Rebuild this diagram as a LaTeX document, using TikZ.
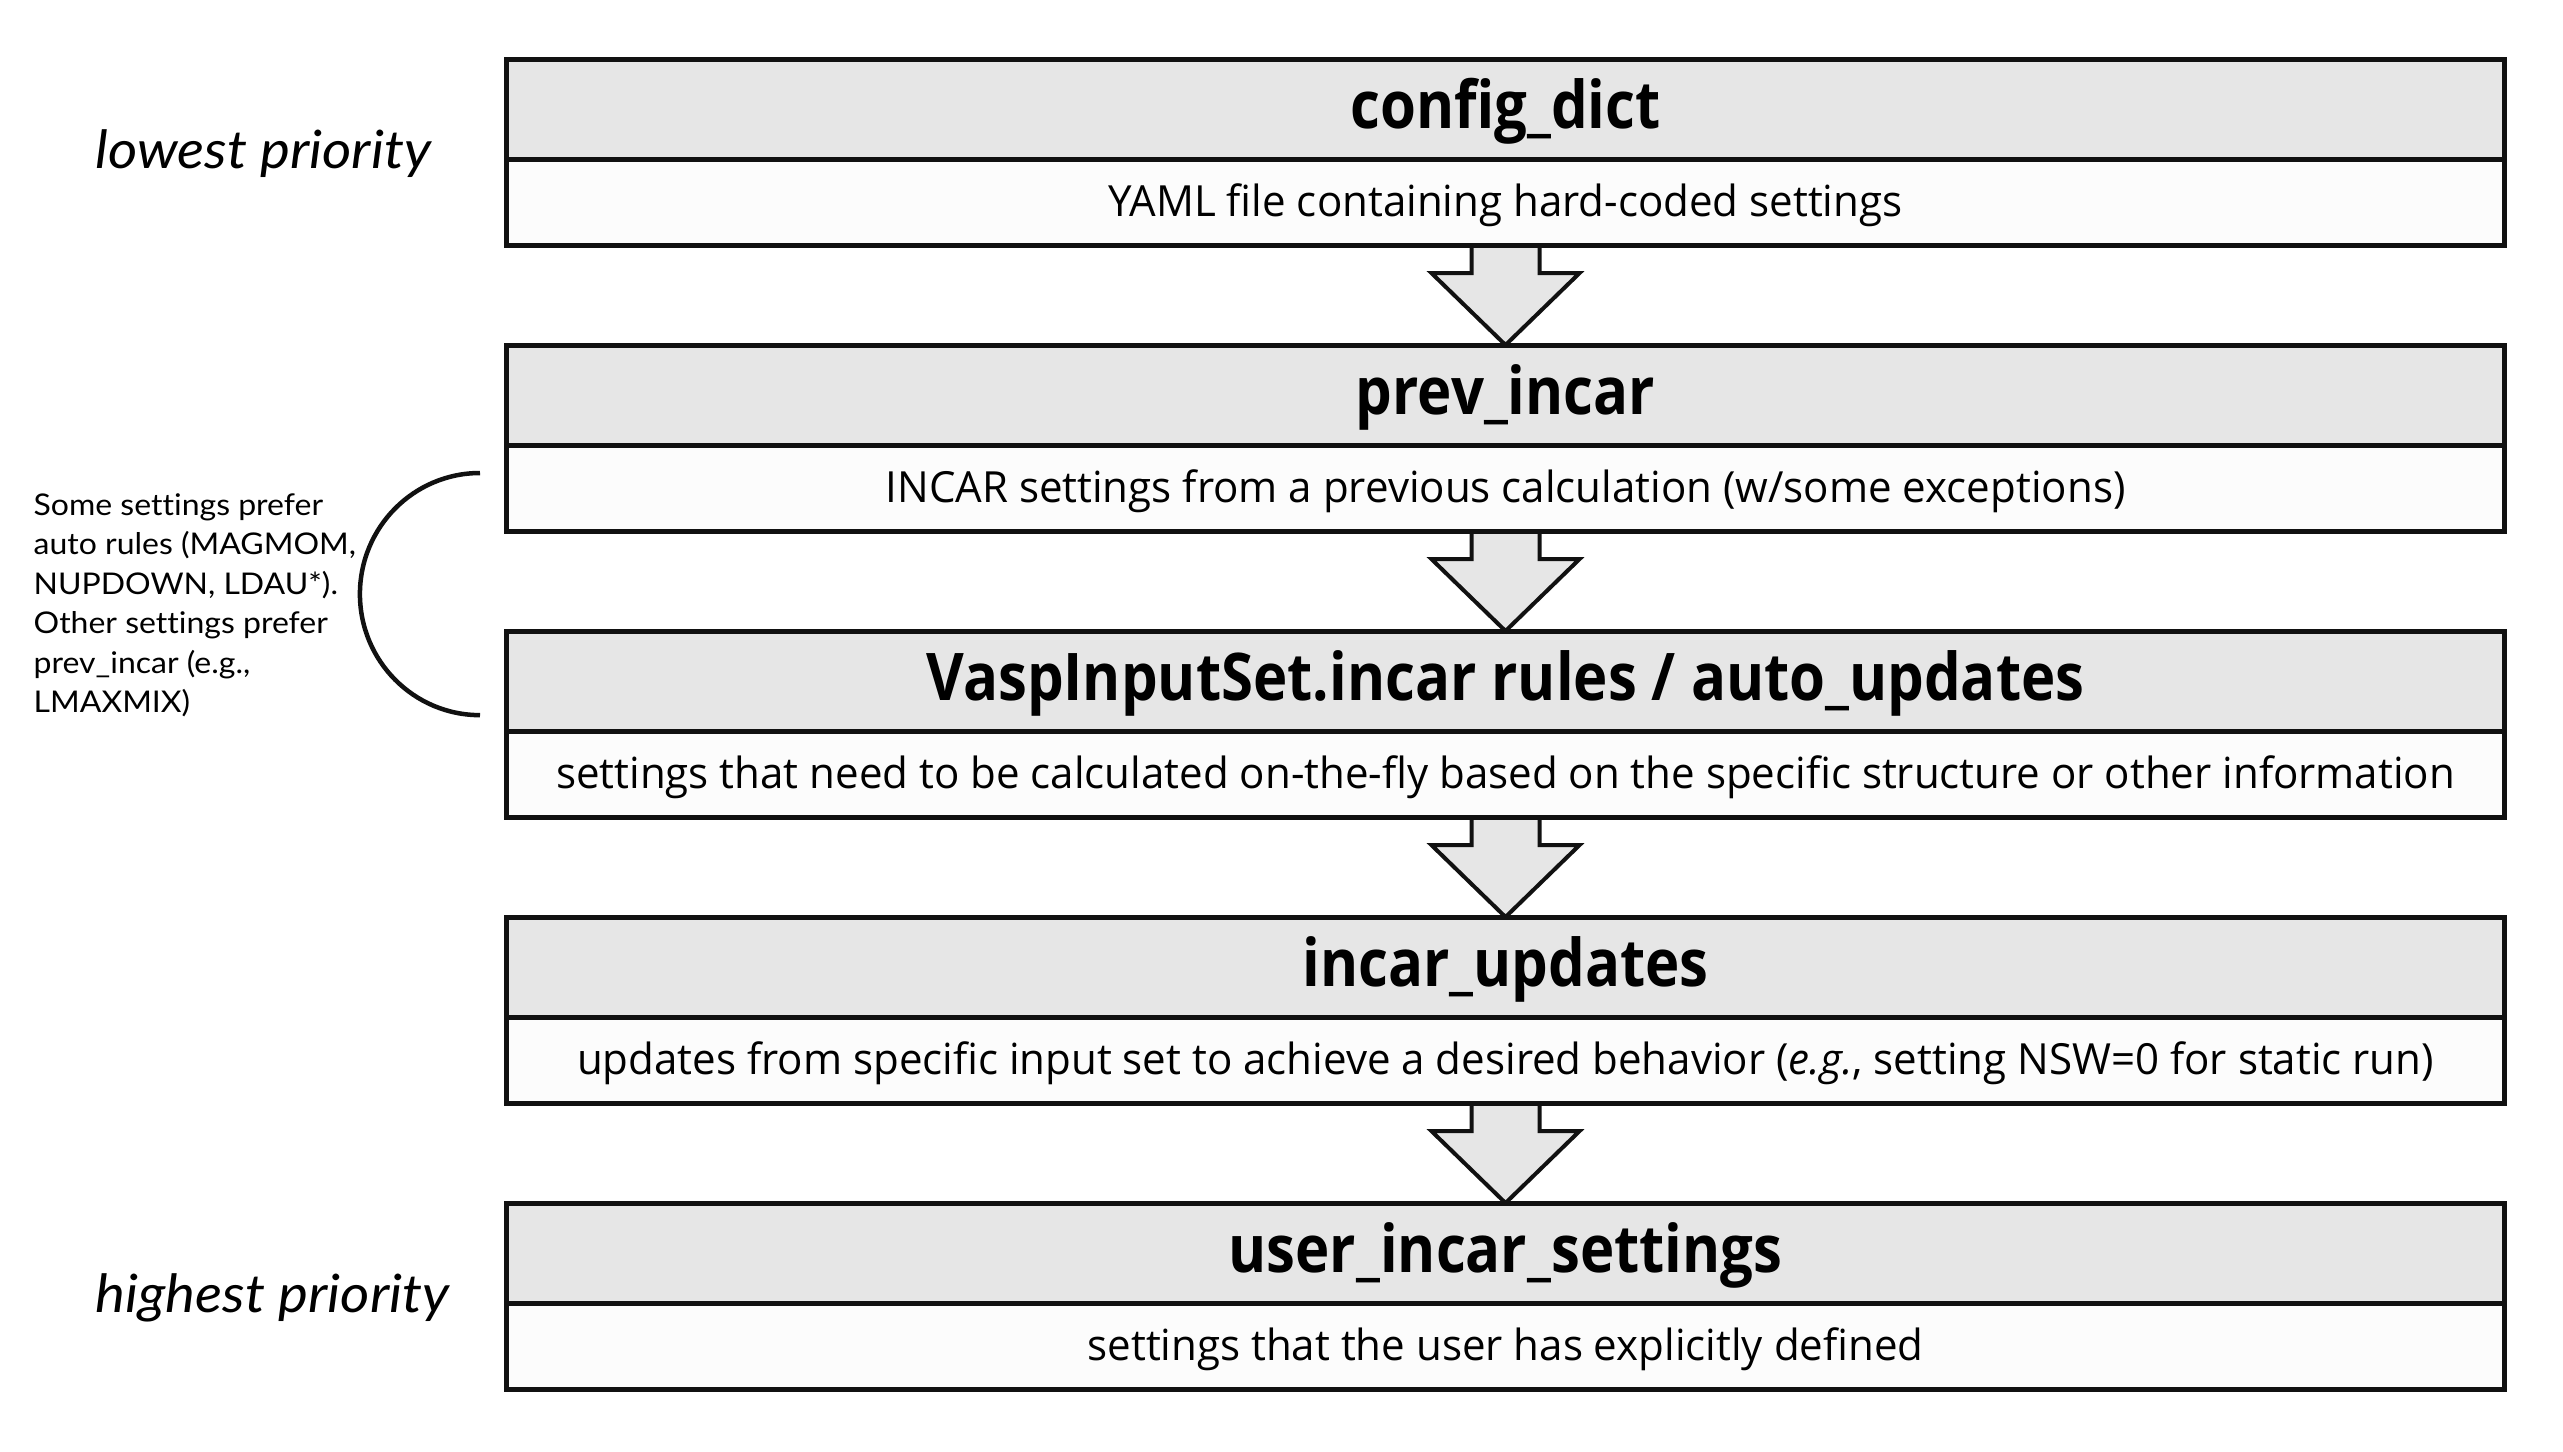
\documentclass[tikz,border=0pt]{standalone}
\usepackage{fontspec}
\setmainfont{Open Sans}[FakeStretch=0.98]
\newfontfamily\hdrfont{Open Sans}[FakeStretch=0.883]
\newfontfamily\sidefont{Lato}[FakeStretch=1.07,Ligatures=NoCommon]
\usetikzlibrary{calc,backgrounds}
\definecolor{hdr}{HTML}{E6E6E6}
\definecolor{bdy}{HTML}{FCFCFC}
\definecolor{ln}{HTML}{111111}
\begin{document}
\begin{tikzpicture}[x=0.01cm,y=-0.01cm,
  hdrbox/.style={draw=ln, fill=hdr, line width=0.05cm, minimum width=19.97cm,
    minimum height=1cm, outer sep=0pt, inner sep=0pt,
    font=\hdrfont\bfseries\fontsize{18.7}{23}\selectfont, text height=0.47cm, text depth=0.09cm, anchor=north},
  bdybox/.style={draw=ln, fill=bdy, line width=0.05cm, minimum width=19.97cm,
    minimum height=0.86cm, outer sep=0pt, inner sep=0pt,
    font=\fontsize{12.2}{15}\selectfont, text height=0.35cm, text depth=0.06cm, anchor=north},
  barrow/.style={draw=ln, fill=hdr, line width=0.04cm, line join=miter},
  prio/.style={font=\sidefont\itshape\fontsize{15}{18}\selectfont, inner sep=0pt, anchor=base west},
  notetxt/.style={font=\sidefont\fontsize{8.5}{11.2}\selectfont, inner sep=0pt, align=left, anchor=north west},
  bracket/.style={draw=ln, line width=0.045cm}
]
\useasboundingbox (0,0) rectangle (2563,1451);

\node[hdrbox] (h1) at (1505.5,59) {config\_dict};
\node[bdybox] (b1) at (h1.south) {YAML file containing hard-coded settings};
\node[hdrbox] (h2) at (1505.5,345) {prev\_incar};
\node[bdybox] (b2) at (h2.south) {INCAR settings from a previous calculation (w/some exceptions)};
\node[hdrbox] (h3) at (1505.5,631) {VaspInputSet.incar rules / auto\_updates};
\node[bdybox] (b3) at (h3.south) {settings that need to be calculated on-the-fly based on the specific structure or other information};
\node[hdrbox] (h4) at (1505.5,917) {incar\_updates};
\node[bdybox] (b4) at (h4.south) {updates from specific input set to achieve a desired behavior (\textit{e.g.}, setting NSW=0 for static run)};
\node[hdrbox] (h5) at (1505.5,1203) {user\_incar\_settings};
\node[bdybox] (b5) at (h5.south) {settings that the user has explicitly defined};

\begin{scope}[on background layer]
\fill[white] (0,0) rectangle (2563,1451);
\foreach \a/\b in {b1/h2,b2/h3,b3/h4,b4/h5}{
  \draw[barrow] ($(\a.south)+(-34,0)$) -- ++(0,28) -- ++(-40,0) -- (\b.north)
    -- ($(\a.south)+(74,28)$) -- ++(-40,0) -- ($(\a.south)+(34,0)$);
}
\end{scope}

\node[prio] (lo) at (95,168) {lowest priority};
\node[prio] (hi) at (95,1312) {highest priority};

\node[notetxt] (note) at (33,493) {Some settings prefer\\auto rules (MAGMOM,\\NUPDOWN, LDAU*).\\Other settings prefer\\prev\_incar (e.g.,\\LMAXMIX)};
\coordinate (bt) at (480,473);
\draw[bracket] (bt) arc[start angle=90,end angle=270,x radius=1.2cm,y radius=1.21cm];
\end{tikzpicture}
\end{document}
